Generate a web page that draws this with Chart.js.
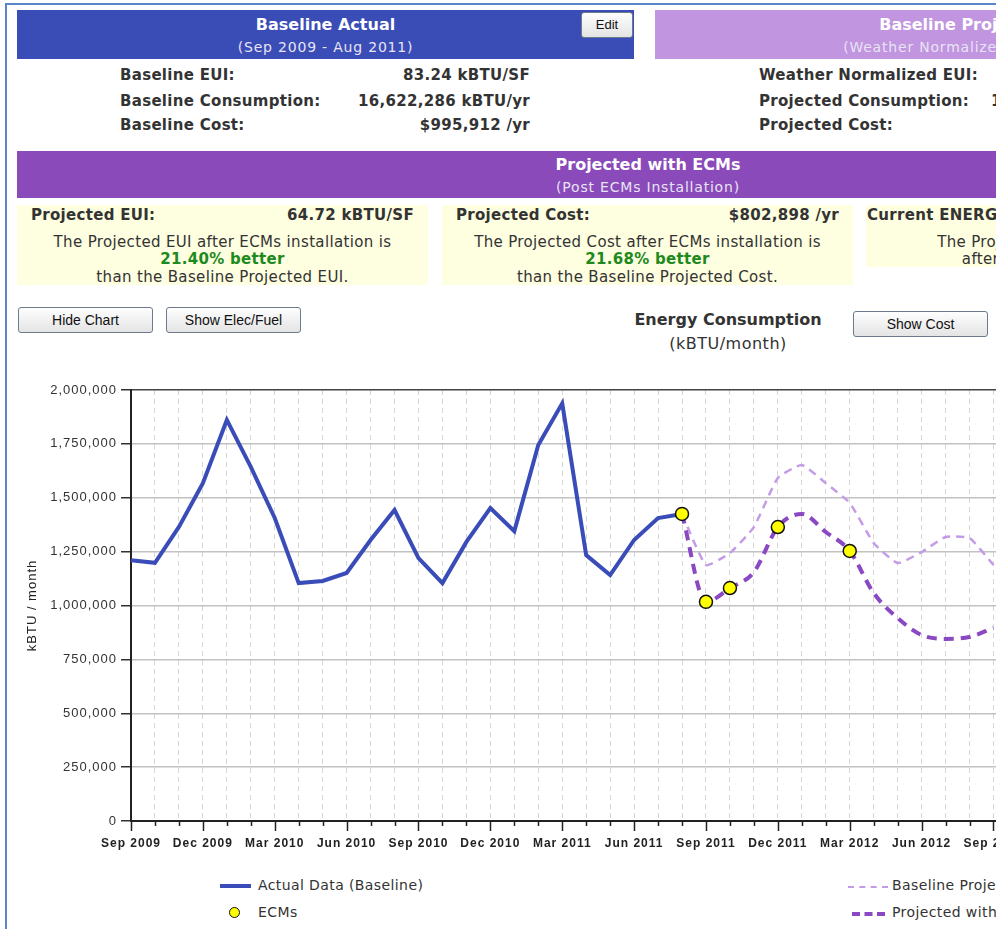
<!DOCTYPE html>
<html>
<head>
<meta charset="utf-8">
<script src="https://cdn.jsdelivr.net/npm/chart.js@4/dist/chart.umd.min.js"></script>
<style>
  html, body { margin: 0; padding: 0; }
  body { width: 996px; height: 929px; overflow: hidden; position: relative; background: #fff; font-family: "DejaVu Sans", Verdana, sans-serif; color: #333; }
  .abs { position: absolute; white-space: nowrap; }
  .frame { position: absolute; left: 5px; top: 3px; width: 2000px; height: 2000px; border-left: 2px solid #5a86c8; border-top: 2px solid #5a86c8; }
  .band { position: absolute; color: #fff; text-align: center; }
  .band .t { position: absolute; left: 0; right: 0; font-weight: bold; font-size: 16px; }
  .band .s { position: absolute; left: 0; right: 0; font-size: 14px; color: #e8e4f4; letter-spacing: 0.8px; }
  .lbl { font-weight: bold; font-size: 15px; color: #333; letter-spacing: 0.3px; }
  .val { font-weight: bold; font-size: 15px; color: #333; text-align: right; letter-spacing: 0.3px; }
  .note { position: absolute; background: #fefee0; }
  .note .line { position: absolute; left: 0; right: 0; text-align: center; font-size: 15px; color: #333; letter-spacing: 0.35px; }
  .note .good { color: #1d8a1d; font-weight: bold; letter-spacing: 0.3px; }
  .btn { position: absolute; box-sizing: border-box; border: 1px solid #6c7a8c; border-radius: 3px; background: linear-gradient(#fefefe, #e4e4e4); font-family: "Liberation Sans", Arial, sans-serif; font-size: 14px; color: #111; text-align: center; }
  .leg { font-size: 14px; color: #333; letter-spacing: 0.4px; }
</style>
</head>
<body>
<div class="frame"></div>

<div class="band" style="left:17px;top:10px;width:617px;height:49px;background:#3a4cb6;">
  <div class="t" style="top:5px;">Baseline Actual</div>
  <div class="s" style="top:29px;">(Sep 2009 - Aug 2011)</div>
</div>
<div class="btn" style="left:581px;top:12px;width:52px;height:26px;line-height:24px;font-size:13px;">Edit</div>
<div class="band" style="left:655px;top:10px;width:617px;height:49px;background:#c195e0;">
  <div class="t" style="top:5px;">Baseline Projected</div>
  <div class="s" style="top:29px;">(Weather Normalized Baseline)</div>
</div>

<div class="abs lbl" style="left:120px;top:66px;">Baseline EUI:</div>
<div class="abs val" style="left:280px;width:250px;top:66px;">83.24 kBTU/SF</div>
<div class="abs lbl" style="left:120px;top:92px;">Baseline Consumption:</div>
<div class="abs val" style="left:280px;width:250px;top:92px;">16,622,286 kBTU/yr</div>
<div class="abs lbl" style="left:120px;top:116px;">Baseline Cost:</div>
<div class="abs val" style="left:280px;width:250px;top:116px;">$995,912 /yr</div>

<div class="abs lbl" style="left:759px;top:66px;">Weather Normalized EUI:</div>
<div class="abs val" style="left:913px;width:250px;top:66px;">82.34 kBTU/SF</div>
<div class="abs lbl" style="left:759px;top:92px;">Projected Consumption:</div>
<div class="abs val" style="left:913px;width:250px;top:92px;">16,442,560 kBTU/yr</div>
<div class="abs lbl" style="left:759px;top:116px;">Projected Cost:</div>
<div class="abs val" style="left:913px;width:250px;top:116px;">$1,025,150 /yr</div>

<div class="band" style="left:17px;top:151px;width:1262px;height:47px;background:#8a4ab9;">
  <div class="t" style="top:4px;">Projected with ECMs</div>
  <div class="s" style="top:28px;">(Post ECMs Installation)</div>
</div>

<div class="note" style="left:17px;top:205px;width:411px;height:80px;">
  <div class="abs lbl" style="left:14px;top:1px;">Projected EUI:</div>
  <div class="abs val" style="left:147px;width:250px;top:1px;">64.72 kBTU/SF</div>
  <div class="line" style="top:28px;">The Projected EUI after ECMs installation is</div>
  <div class="line good" style="top:45px;">21.40% better</div>
  <div class="line" style="top:63px;">than the Baseline Projected EUI.</div>
</div>
<div class="note" style="left:442px;top:205px;width:411px;height:80px;">
  <div class="abs lbl" style="left:14px;top:1px;">Projected Cost:</div>
  <div class="abs val" style="left:147px;width:250px;top:1px;">$802,898 /yr</div>
  <div class="line" style="top:28px;">The Projected Cost after ECMs installation is</div>
  <div class="line good" style="top:45px;">21.68% better</div>
  <div class="line" style="top:63px;">than the Baseline Projected Cost.</div>
</div>
<div class="note" style="left:866px;top:205px;width:411px;height:62px;">
  <div class="abs lbl" style="left:1px;top:1px;">Current ENERGY STAR Score:</div>
  <div class="line" style="top:28px;">The Projected ENERGY STAR Score</div>
  <div class="line" style="top:45px;">after ECMs installation is 78</div>
</div>

<div class="btn" style="left:18px;top:307px;width:135px;height:26px;line-height:24px;">Hide Chart</div>
<div class="btn" style="left:166px;top:307px;width:135px;height:26px;line-height:24px;">Show Elec/Fuel</div>
<div class="btn" style="left:853px;top:311px;width:135px;height:26px;line-height:24px;">Show Cost</div>

<div class="abs" style="left:528px;width:400px;top:310px;text-align:center;font-weight:bold;font-size:16px;color:#333;">Energy Consumption</div>
<div class="abs" style="left:528px;width:400px;top:334px;text-align:center;font-size:16px;letter-spacing:0.5px;color:#333;">(kBTU/month)</div>

<div class="abs" style="left:20px;top:370px;">
  <canvas id="energyChart" width="1257" height="480"></canvas>
</div>

<div class="abs" style="left:220px;top:884px;width:31px;height:4px;background:#3a4cb8;"></div>
<div class="abs leg" style="left:258px;top:877px;">Actual Data (Baseline)</div>
<div class="abs" style="left:229px;top:907px;width:11px;height:11px;border-radius:50%;background:#ffff00;border:1.5px solid #111;box-sizing:border-box;"></div>
<div class="abs leg" style="left:258px;top:904px;">ECMs</div>
<div class="abs" style="left:848px;top:886px;width:40px;height:0;border-top:2.5px dashed #c49be6;"></div>
<div class="abs leg" style="left:892px;top:877px;">Baseline Projected</div>
<div class="abs" style="left:852px;top:912px;width:33px;height:0;border-top:4px dashed #8a48c2;"></div>
<div class="abs leg" style="left:892px;top:904px;">Projected with ECMs</div>

<script>
const months = [
  'Sep 2009', 'Oct 2009', 'Nov 2009', 'Dec 2009', 'Jan 2010', 'Feb 2010', 'Mar 2010', 'Apr 2010',
  'May 2010', 'Jun 2010', 'Jul 2010', 'Aug 2010', 'Sep 2010', 'Oct 2010', 'Nov 2010', 'Dec 2010',
  'Jan 2011', 'Feb 2011', 'Mar 2011', 'Apr 2011', 'May 2011', 'Jun 2011', 'Jul 2011', 'Aug 2011',
  'Sep 2011', 'Oct 2011', 'Nov 2011', 'Dec 2011', 'Jan 2012', 'Feb 2012', 'Mar 2012', 'Apr 2012',
  'May 2012', 'Jun 2012', 'Jul 2012', 'Aug 2012', 'Sep 2012', 'Oct 2012', 'Nov 2012', 'Dec 2012',
  'Jan 2013', 'Feb 2013', 'Mar 2013', 'Apr 2013', 'May 2013', 'Jun 2013', 'Jul 2013', 'Aug 2013'
];

// Sep 2009 - Aug 2011
const actualData = [
  1210000, 1198000, 1365000, 1568000, 1861000, 1643000, 1406000, 1104000,
  1114000, 1151000, 1304000, 1443000, 1220000, 1104000, 1295000, 1452000,
  1345000, 1745000, 1938000, 1234000, 1141000, 1304000, 1406000, 1425000
];

// projections start at Aug 2011
const projectionStart = 'Aug 2011';
const baselineProjected = [
  1425000, 1188000, 1244000, 1364000, 1592000, 1652000, 1568000,
  1476000, 1290000, 1197000, 1248000, 1318000, 1313000, 1188000
];
const projectedWithEcms = [
  1425000, 1017000, 1081000, 1155000, 1364000, 1425000, 1341000,
  1253000, 1058000, 942000, 863000, 845000, 854000, 896000
];

const ecmMonths = ['Aug 2011', 'Sep 2011', 'Oct 2011', 'Dec 2011', 'Mar 2012'];
const ecmValues = [1425000, 1017000, 1081000, 1364000, 1253000];

const yTicks = [0, 250000, 500000, 750000, 1000000, 1250000, 1500000, 1750000, 2000000];

const offset = months.indexOf(projectionStart);
const pad = arr => Array(offset).fill(null).concat(arr);

// spaced-out axis text like the original flash chart
const textSpacing = {
  id: 'textSpacing',
  beforeDraw(chart) {
    chart.ctx.letterSpacing = '1px';
  }
};

// monthly tick marks below the x axis, longer every quarter
const monthTicks = {
  id: 'monthTicks',
  afterDraw(chart) {
    const ctx = chart.ctx;
    const x = chart.scales.x;
    const bottom = chart.chartArea.bottom;
    ctx.save();
    ctx.strokeStyle = '#222';
    ctx.lineWidth = 1.5;
    x.ticks.forEach((t, i) => {
      const px = Math.round(x.getPixelForTick(i)) + 0.5;
      ctx.beginPath();
      ctx.moveTo(px, bottom);
      ctx.lineTo(px, bottom + (i % 3 === 0 ? 10 : 5));
      ctx.stroke();
    });
    ctx.restore();
  }
};

const ctx = document.getElementById('energyChart').getContext('2d');
new Chart(ctx, {
  type: 'line',
  data: {
    labels: months,
    datasets: [
      {
        label: 'ECMs',
        data: ecmMonths.map((m, i) => ({ x: m, y: ecmValues[i] })),
        showLine: false,
        pointRadius: 6.5,
        pointBackgroundColor: '#ffff00',
        pointBorderColor: '#111',
        pointBorderWidth: 1.5,
        order: 0
      },
      {
        label: 'Projected with ECMs',
        data: pad(projectedWithEcms),
        borderColor: '#8a48c2',
        borderWidth: 4,
        borderDash: [10, 7],
        cubicInterpolationMode: 'monotone',
        pointRadius: 0,
        fill: false,
        order: 1
      },
      {
        label: 'Baseline Projected',
        data: pad(baselineProjected),
        borderColor: '#c49be6',
        borderWidth: 2.5,
        borderDash: [8, 6],
        tension: 0.15,
        pointRadius: 0,
        fill: false,
        order: 2
      },
      {
        label: 'Actual Data (Baseline)',
        data: actualData,
        borderColor: '#3a4cb8',
        borderWidth: 4,
        tension: 0,
        pointRadius: 0,
        fill: false,
        order: 3
      }
    ]
  },
  options: {
    responsive: false,
    animation: false,
    events: [],
    layout: { padding: { top: 20, right: 20, bottom: 0, left: 0 } },
    plugins: {
      legend: { display: false },
      tooltip: { enabled: false }
    },
    scales: {
      x: {
        type: 'category',
        afterFit(scale) { scale.height = 29; },
        grid: {
          color: '#d6d6d6',
          lineWidth: 1,
          drawTicks: false
        },
        border: { color: '#222', width: 2, dash: [5, 4] },
        ticks: {
          autoSkip: false,
          maxRotation: 0,
          minRotation: 0,
          padding: 15,
          color: '#222',
          font: { family: 'Liberation Sans', size: 12, weight: 'bold' },
          callback: function (value, index) {
            return index % 3 === 0 ? this.getLabelForValue(value) : '';
          }
        }
      },
      y: {
        min: 0,
        max: 2000000,
        afterFit(scale) { scale.width = 111; },
        afterBuildTicks(scale) { scale.ticks = yTicks.map(v => ({ value: v })); },
        grid: {
          color: c => (c.tick && c.tick.value === 2000000 ? '#444' : '#c2c2c2'),
          lineWidth: 1.5,
          tickColor: '#333',
          tickLength: 10
        },
        border: { color: '#222', width: 2 },
        ticks: {
          padding: 4,
          color: '#333',
          font: { family: 'Liberation Sans', size: 13 },
          callback: v => v.toLocaleString('en-US')
        },
        title: {
          display: true,
          text: 'kBTU / month',
          color: '#222',
          padding: { top: 5, bottom: 0 },
          font: { family: 'Liberation Sans', size: 13 }
        }
      }
    }
  },
  plugins: [textSpacing, monthTicks]
});
</script>
</body>
</html>
